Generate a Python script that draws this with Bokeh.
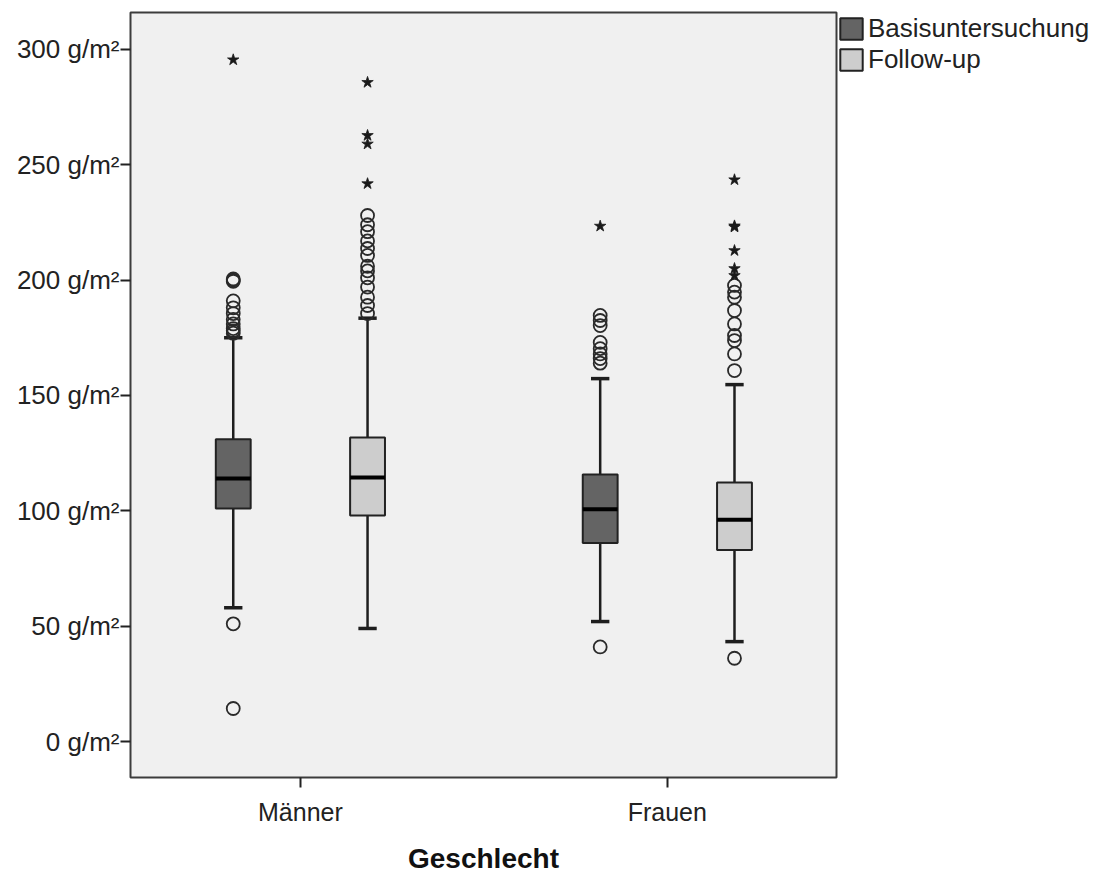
from bokeh.plotting import figure
from bokeh.models import ColumnDataSource, FixedTicker, Legend, LegendItem
from bokeh.embed import file_html
from bokeh.resources import INLINE

# ---------------- data ----------------
groups = ["Männer", "Frauen"]
series = ["Basisuntersuchung", "Follow-up"]
series_colors = ["#646464", "#CDCDCD"]

# boxes in order: (Männer, Basis), (Männer, Follow-up), (Frauen, Basis), (Frauen, Follow-up)
box_group = [0, 0, 1, 1]
box_series = [0, 1, 0, 1]
q1 = [101.0, 98.0, 86.0, 83.0]
median = [114.0, 114.4, 100.7, 96.1]
q3 = [131.0, 131.8, 115.7, 112.3]
whisker_low = [58.0, 49.0, 52.0, 43.3]
whisker_high = [175.0, 183.5, 157.3, 154.7]

outliers = [
    [200.0, 200.5, 199.5, 191.0, 188.0, 185.5, 183.0, 181.0, 179.0, 178.0, 177.0, 51.0, 14.3],
    [228.0, 224.0, 221.0, 217.0, 213.7, 210.7, 206.0, 204.0, 201.0, 197.0, 192.6, 189.0, 185.5],
    [184.7, 182.5, 180.3, 173.0, 170.3, 168.0, 166.0, 164.0, 41.0],
    [197.7, 194.8, 192.6, 186.8, 181.0, 176.0, 173.8, 168.0, 160.8, 36.1],
]
extremes = [
    [295.5],
    [285.7, 262.7, 259.0, 241.8],
    [223.4],
    [243.5, 223.0, 223.5, 212.8, 205.0, 202.0],
]

y_ticks = [0, 50, 100, 150, 200, 250, 300]
unit = "g/m²"

# ---------------- layout helpers ----------------
offset = 0.183
box_w = 0.095
cap_w = 0.05
xpos = [box_group[i] + 1 + (offset if box_series[i] == 1 else -offset) for i in range(4)]

p = figure(
    frame_width=706, frame_height=765,
    x_range=(0.537, 2.461), y_range=(-15.6, 316.0),
    output_backend="svg", toolbar_location=None,
    min_border_left=130, min_border_top=12, min_border_bottom=94, min_border_right=0,
    background_fill_color="#F0F0F0", border_fill_color="white",
)
p.outline_line_color = "#3c3c3c"
p.outline_line_width = 2
p.xgrid.visible = False
p.ygrid.visible = False

FONT = "Liberation Sans"

# whiskers
wsrc = ColumnDataSource(dict(x=xpos, lo=whisker_low, q1=q1, q3=q3, hi=whisker_high))
p.segment(x0="x", y0="lo", x1="x", y1="q1", source=wsrc, line_color="#1e1e1e", line_width=2.5)
p.segment(x0="x", y0="q3", x1="x", y1="hi", source=wsrc, line_color="#1e1e1e", line_width=2.5)
cap_x0 = [x - cap_w / 2 for x in xpos]
cap_x1 = [x + cap_w / 2 for x in xpos]
csrc = ColumnDataSource(dict(x0=cap_x0, x1=cap_x1, lo=whisker_low, hi=whisker_high))
p.segment(x0="x0", y0="lo", x1="x1", y1="lo", source=csrc, line_color="#1e1e1e", line_width=3.5)
p.segment(x0="x0", y0="hi", x1="x1", y1="hi", source=csrc, line_color="#1e1e1e", line_width=3.5)

# boxes (one renderer per series for the legend)
renderers = []
for s in range(2):
    idx = [i for i in range(4) if box_series[i] == s]
    src = ColumnDataSource(dict(x=[xpos[i] for i in idx], top=[q3[i] for i in idx],
                                bottom=[q1[i] for i in idx]))
    r = p.vbar(x="x", top="top", bottom="bottom", width=box_w, source=src,
               fill_color=series_colors[s], line_color="#222222", line_width=2)
    renderers.append(r)

# medians
msrc = ColumnDataSource(dict(x0=[x - box_w / 2 for x in xpos], x1=[x + box_w / 2 for x in xpos], m=median))
p.segment(x0="x0", y0="m", x1="x1", y1="m", source=msrc, line_color="#000000", line_width=4)

# outliers
ox, oy, ex, ey = [], [], [], []
for i in range(4):
    ox += [xpos[i]] * len(outliers[i]); oy += outliers[i]
    ex += [xpos[i]] * len(extremes[i]); ey += extremes[i]
p.scatter(x=ox, y=oy, marker="circle", size=13, fill_alpha=0, line_color="#2a2a2a", line_width=1.8)
p.scatter(x=ex, y=ey, marker="star", size=12, fill_color="#1a1a1a", line_color="#1a1a1a", line_width=0.8)

# axes
p.xaxis.ticker = FixedTicker(ticks=[1, 2])
p.xaxis.major_label_overrides = {1: groups[0], 2: groups[1]}
p.xaxis.axis_label = "Geschlecht"
p.xaxis.axis_label_text_font = FONT
p.xaxis.axis_label_text_font_style = "bold"
p.xaxis.axis_label_text_font_size = "28px"
p.xaxis.axis_label_text_color = "#111111"
p.xaxis.axis_label_standoff = 14
p.xaxis.major_label_text_font = FONT
p.xaxis.major_label_text_font_size = "25px"
p.xaxis.major_label_text_color = "#222222"
p.xaxis.major_label_standoff = 10

p.yaxis.ticker = FixedTicker(ticks=y_ticks)
p.yaxis.major_label_overrides = {t: f"{t} {unit}" for t in y_ticks}
p.yaxis.major_label_text_font = FONT
p.yaxis.major_label_text_font_size = "26px"
p.yaxis.major_label_text_color = "#222222"
p.yaxis.major_label_standoff = 1

for ax in (p.xaxis, p.yaxis):
    ax.axis_line_color = None
    ax.major_tick_in = 0
    ax.major_tick_out = 10
    ax.major_tick_line_color = "#222222"
    ax.major_tick_line_width = 2
    ax.minor_tick_line_color = None

legend = Legend(
    items=[LegendItem(label=series[s], renderers=[renderers[s]]) for s in range(2)],
    location="top_left", orientation="vertical",
    glyph_width=28, glyph_height=27, label_height=27, spacing=0, padding=0, margin=1,
    label_standoff=3, label_text_font=FONT, label_text_font_size="26px",
    label_text_color="#222222", border_line_color=None, background_fill_alpha=0,
)
p.add_layout(legend, "right")

open("out.html", "w").write(file_html(p, INLINE))
